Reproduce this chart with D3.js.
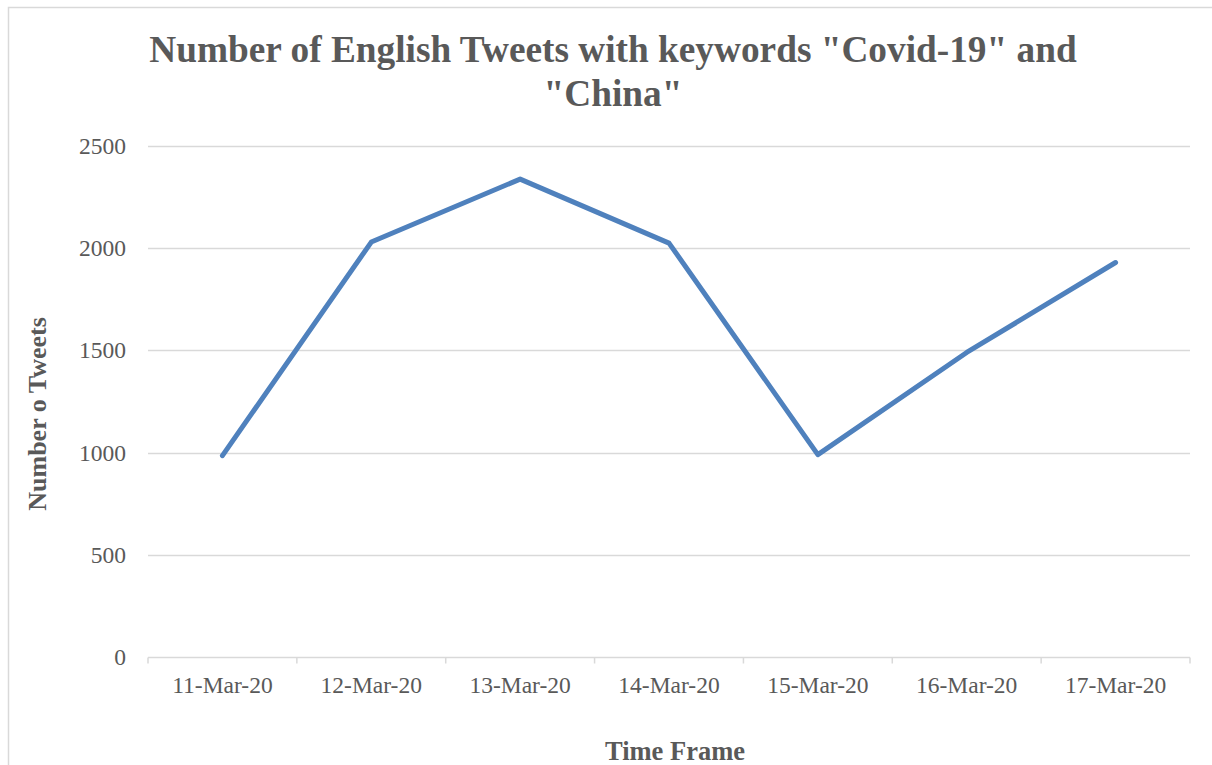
<!DOCTYPE html>
<html>
<head>
<meta charset="utf-8">
<script src="https://cdn.jsdelivr.net/npm/d3@7"></script>
<style>
  html, body { margin: 0; padding: 0; background: #ffffff; }
  svg { display: block; }
</style>
</head>
<body>
<svg id="chart" width="1212" height="765"></svg>
<script>
// Daily counts of English tweets mentioning both keywords
const dates = ["11-Mar-20", "12-Mar-20", "13-Mar-20", "14-Mar-20", "15-Mar-20", "16-Mar-20", "17-Mar-20"];
const tweetCounts = [985, 2030, 2338, 2025, 990, 1490, 1930];
const yTicks = [0, 500, 1000, 1500, 2000, 2500];
const titleLines = ["Number of English Tweets with keywords \"Covid-19\" and", "\"China\""];
const xTitle = "Time Frame";
const yTitle = "Number o Tweets";

const W = 1212, H = 765;
const margin = { left: 148, right: 22, top: 146, bottom: 108 };
const plotW = W - margin.left - margin.right;
const plotH = H - margin.top - margin.bottom;

const textColor = "#595959";
const gridColor = "#d9d9d9";
const lineColor = "#4f81bd";
const serif = "'Liberation Serif', 'Times New Roman', Times, serif";

const svg = d3.select("#chart");

// outer chart frame
svg.append("rect")
  .attr("x", 8.5).attr("y", 7.5)
  .attr("width", W + 20).attr("height", H + 20)
  .attr("fill", "#ffffff")
  .attr("stroke", gridColor).attr("stroke-width", 1.5);

const g = svg.append("g").attr("transform", `translate(${margin.left},${margin.top})`);

const x = d3.scaleBand().domain(dates).range([0, plotW]).padding(0);
const y = d3.scaleLinear().domain([0, 2500]).range([plotH, 0]);

// horizontal gridlines
g.append("g")
  .selectAll("line")
  .data(yTicks.filter(d => d > 0))
  .join("line")
  .attr("x1", 0).attr("x2", plotW)
  .attr("y1", d => Math.round(y(d)) + 0.5).attr("y2", d => Math.round(y(d)) + 0.5)
  .attr("stroke", gridColor).attr("stroke-width", 1.5);

// y axis labels
const yAxis = g.append("g")
  .call(d3.axisLeft(y).tickValues(yTicks).tickFormat(d3.format("d")).tickSize(0).tickPadding(22));
yAxis.select(".domain").remove();
yAxis.selectAll("text")
  .attr("fill", textColor)
  .style("font-family", serif)
  .style("font-size", "23.5px");

// x axis with boundary ticks
const xAxisG = g.append("g").attr("transform", `translate(0,${Math.round(plotH) + 0.5})`);
xAxisG.append("line")
  .attr("x1", 0).attr("x2", plotW)
  .attr("stroke", gridColor).attr("stroke-width", 1.5);
const bounds = dates.map(d => x(d)).concat([plotW]);
xAxisG.selectAll("line.tick")
  .data(bounds)
  .join("line")
  .attr("class", "tick")
  .attr("x1", d => d).attr("x2", d => d)
  .attr("y1", 0).attr("y2", 6)
  .attr("stroke", gridColor).attr("stroke-width", 1.5);
xAxisG.selectAll("text")
  .data(dates)
  .join("text")
  .attr("x", d => x(d) + x.bandwidth() / 2)
  .attr("y", 35)
  .attr("text-anchor", "middle")
  .attr("fill", textColor)
  .style("font-family", serif)
  .style("font-size", "23.5px")
  .text(d => d);

// data line
const line = d3.line()
  .x((d, i) => x(dates[i]) + x.bandwidth() / 2)
  .y(d => y(d));
g.append("path")
  .datum(tweetCounts)
  .attr("d", line)
  .attr("fill", "none")
  .attr("stroke", lineColor)
  .attr("stroke-width", 5)
  .attr("stroke-linejoin", "round")
  .attr("stroke-linecap", "round");

// chart title
svg.append("text")
  .attr("text-anchor", "middle")
  .attr("fill", textColor)
  .style("font-family", serif)
  .style("font-weight", "bold")
  .style("font-size", "37.3px")
  .selectAll("tspan")
  .data(titleLines)
  .join("tspan")
  .attr("x", 613)
  .attr("y", (d, i) => 62 + i * 44)
  .text(d => d);

// axis titles
svg.append("text")
  .attr("x", 675).attr("y", 760)
  .attr("text-anchor", "middle")
  .attr("fill", textColor)
  .style("font-family", serif)
  .style("font-weight", "bold")
  .style("font-size", "26.5px")
  .text(xTitle);

svg.append("text")
  .attr("transform", "translate(46,414) rotate(-90)")
  .attr("text-anchor", "middle")
  .attr("fill", textColor)
  .style("font-family", serif)
  .style("font-weight", "bold")
  .style("font-size", "26px")
  .text(yTitle);
</script>
</body>
</html>
